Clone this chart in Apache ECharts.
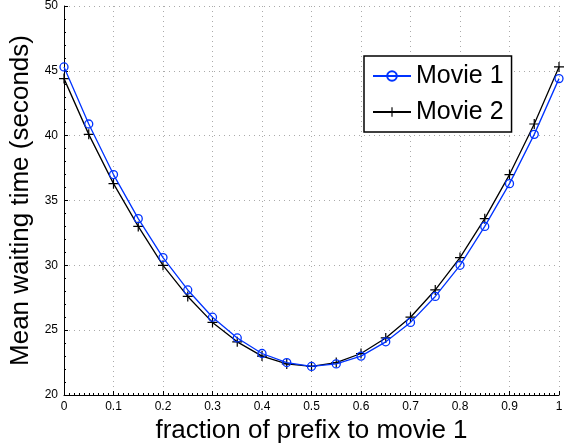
<!DOCTYPE html>
<html>
<head>
<meta charset="utf-8">
<script src="https://cdn.jsdelivr.net/npm/echarts@6/dist/echarts.min.js"></script>
<style>
  html, body { margin: 0; padding: 0; background: #fff; }
  #chart { width: 573px; height: 446px; }
</style>
</head>
<body>
<div id="chart"></div>
<script>
// prefix fraction (x) and mean waiting time for the two movies
var fractions = [0, 0.05, 0.1, 0.15, 0.2, 0.25, 0.3, 0.35, 0.4, 0.45, 0.5,
                 0.55, 0.6, 0.65, 0.7, 0.75, 0.8, 0.85, 0.9, 0.95, 1];
var movie1 = [45.3, 40.9, 37.0, 33.6, 30.6, 28.1, 26.0, 24.4, 23.2, 22.5, 22.2,
              22.4, 23.0, 24.1, 25.6, 27.6, 30.0, 33.0, 36.3, 40.1, 44.4];
var movie2 = [44.4, 40.1, 36.3, 33.0, 30.0, 27.6, 25.6, 24.1, 23.0, 22.4, 22.2,
              22.5, 23.2, 24.4, 26.0, 28.1, 30.6, 33.6, 37.0, 40.9, 45.3];
var seriesNames = ['Movie 1', 'Movie 2'];

function pairs(ys) {
    return fractions.map(function (x, i) { return [x, ys[i]]; });
}

var plusPath = 'path://M4.4,0h1.2v10h-1.2zM0,4.4h10v1.2h-10z';
var font = 'Liberation Sans, Helvetica, Arial, sans-serif';
var blue = '#0033ff';

var chart = echarts.init(document.getElementById('chart'));
chart.setOption({
    animation: false,
    backgroundColor: '#fff',
    grid: {
        left: 64, right: 14, top: 6, bottom: 51,
        outerBoundsMode: 'none'
    },
    legend: {
        data: seriesNames,
        orient: 'vertical',
        left: 364,
        top: 56,
        width: 145,
        padding: [7, 8, 7, 8],
        itemGap: 10,
        itemWidth: 38,
        itemHeight: 12,
        borderColor: '#000',
        borderWidth: 1.5,
        backgroundColor: '#fff',
        textStyle: { fontSize: 25, fontFamily: font, color: '#000', lineHeight: 26 }
    },
    xAxis: {
        type: 'value',
        min: 0, max: 1, interval: 0.1,
        name: 'fraction of prefix to movie 1',
        nameLocation: 'middle',
        nameGap: 22,
        nameTextStyle: { fontSize: 26, fontFamily: font, color: '#000' },
        axisLine: { onZero: false, lineStyle: { color: '#000', width: 1 } },
        axisTick: { inside: true, length: 4, lineStyle: { color: '#000' } },
        minorTick: { show: true, splitNumber: 10, length: 2, lineStyle: { color: '#000' } },
        axisLabel: {
            margin: 6, fontSize: 12, fontFamily: font, color: '#000',
            formatter: function (v) { return String(Math.round(v * 10) / 10); }
        },
        splitLine: { show: true, lineStyle: { color: '#aaa', type: [1, 4], width: 1 } }
    },
    yAxis: {
        type: 'value',
        min: 20, max: 50, interval: 5,
        name: 'Mean waiting time (seconds)',
        nameLocation: 'middle',
        nameGap: 30,
        nameRotate: 90,
        nameTextStyle: { fontSize: 26, fontFamily: font, color: '#000' },
        axisLine: { show: true, onZero: false, lineStyle: { color: '#000', width: 1 } },
        axisTick: { show: true, inside: true, length: 4, lineStyle: { color: '#000' } },
        minorTick: { show: true, splitNumber: 5, length: 2, lineStyle: { color: '#000' } },
        axisLabel: { margin: 6, fontSize: 12, fontFamily: font, color: '#000' },
        splitLine: { show: true, lineStyle: { color: '#aaa', type: [1, 4], width: 1 } }
    },
    series: [
        {
            name: seriesNames[0],
            type: 'line',
            data: pairs(movie1),
            symbol: 'circle',
            symbolSize: 8,
            lineStyle: { color: blue, width: 1.3 },
            itemStyle: { color: 'rgba(255,255,255,0)', borderColor: blue, borderWidth: 1.3 },
            z: 3
        },
        {
            name: seriesNames[1],
            type: 'line',
            data: pairs(movie2),
            symbol: plusPath,
            symbolSize: 10,
            lineStyle: { color: '#000', width: 1.3 },
            itemStyle: { color: '#000', borderWidth: 0 },
            z: 2
        }
    ]
});
</script>
</body>
</html>
